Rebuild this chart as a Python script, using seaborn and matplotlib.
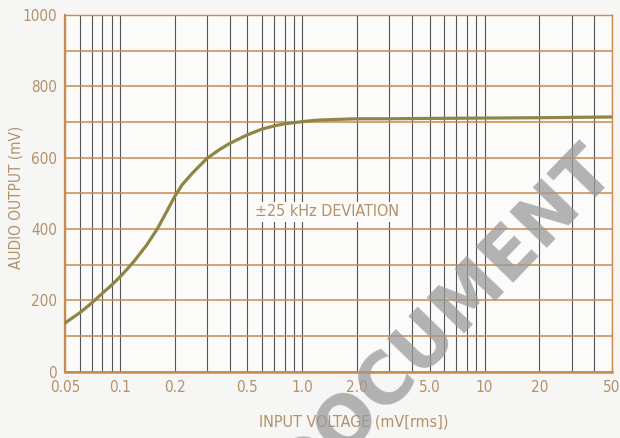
import matplotlib
matplotlib.use("Agg")
import matplotlib.pyplot as plt
import matplotlib.ticker as mticker
import seaborn as sns
import pandas as pd

# curve (input mV rms -> audio output mV)
input_mv = [0.05, 0.06, 0.07, 0.08, 0.09, 0.1, 0.11, 0.12, 0.14, 0.16, 0.18,
            0.2, 0.22, 0.25, 0.3, 0.35, 0.4, 0.5, 0.6, 0.7, 0.8, 1.0, 1.2,
            1.5, 2.0, 3.0, 5.0, 10, 20, 50]
output_mv = [137, 165, 193, 220, 243, 266, 289, 311, 355, 400, 448,
             492, 525, 557, 598, 622, 640, 664, 680, 689, 695, 701, 705,
             707, 709, 709, 710, 711, 712, 714]

x_ticks = [0.05, 0.1, 0.2, 0.5, 1.0, 2.0, 5.0, 10, 20, 50]
x_ticklabels = ["0.05", "0.1", "0.2", "0.5", "1.0", "2.0", "5.0", "10", "20", "50"]
y_ticks = [0, 200, 400, 600, 800, 1000]

df = pd.DataFrame({"input": input_mv, "output": output_mv})

sns.set_style("white")
plt.rcParams["font.family"] = ["DejaVu Sans"]
plt.rcParams["font.stretch"] = "condensed"

tan = "#b3916a"
orange = "#c98a4e"

fig = plt.figure(figsize=(6.2, 4.38), dpi=100, facecolor="#f6f6f4")
ax = fig.add_axes([0.105, 0.151, 0.882, 0.815])
ax.set_facecolor("#fbfbfa")

sns.lineplot(data=df, x="input", y="output", ax=ax, color="#8f8646",
             linewidth=2.3, zorder=5)

ax.set_xscale("log")
ax.set_xlim(0.05, 50)
ax.set_ylim(0, 1000)

# grid: vertical log lines dark, horizontal lines orange every 100
ax.xaxis.set_minor_locator(mticker.LogLocator(base=10, subs=range(1, 10)))
ax.yaxis.set_major_locator(mticker.FixedLocator(y_ticks))
ax.yaxis.set_minor_locator(mticker.MultipleLocator(100))
ax.grid(True, which="both", axis="x", color="#555555", linewidth=0.8)
ax.grid(True, which="both", axis="y", color=orange, linewidth=1.1)
ax.set_axisbelow(True)

ax.set_xticks(x_ticks)
ax.set_xticklabels(x_ticklabels)
ax.xaxis.set_minor_formatter(mticker.NullFormatter())
ax.tick_params(axis="both", which="both", length=0, colors=tan, labelsize=11)
ax.tick_params(axis="x", pad=6)
ax.tick_params(axis="y", pad=6)

for side in ["left", "bottom", "top", "right"]:
    ax.spines[side].set_visible(True)
    ax.spines[side].set_color(orange)
ax.spines["left"].set_linewidth(1.6)
ax.spines["bottom"].set_linewidth(1.8)
ax.spines["top"].set_linewidth(1.0)
ax.spines["right"].set_linewidth(1.0)

ax.set_xlabel("")
ax.set_ylabel("")
fig.text(0.026, 0.55, "AUDIO OUTPUT (mV)", color=tan, fontsize=11,
         rotation=90, ha="center", va="center")

ax.text(0.55, 448, "±25 kHz DEVIATION", color=tan, fontsize=11.5,
        ha="left", va="center", zorder=6,
        bbox=dict(facecolor="#fbfbfa", edgecolor="none", pad=1.5))

fig.text(0.571, 0.037, "INPUT VOLTAGE (mV[rms])", color=tan, fontsize=11.5,
         ha="center", va="center")

# scan watermark
fig.text(0.716, 0.27, "DOCUMENT", color="#9a9a9a", alpha=0.75,
         fontsize=51, fontweight="bold", rotation=46, fontstretch="normal",
         ha="center", va="center", zorder=10)

fig.savefig("out.png", dpi=100, facecolor=fig.get_facecolor())
